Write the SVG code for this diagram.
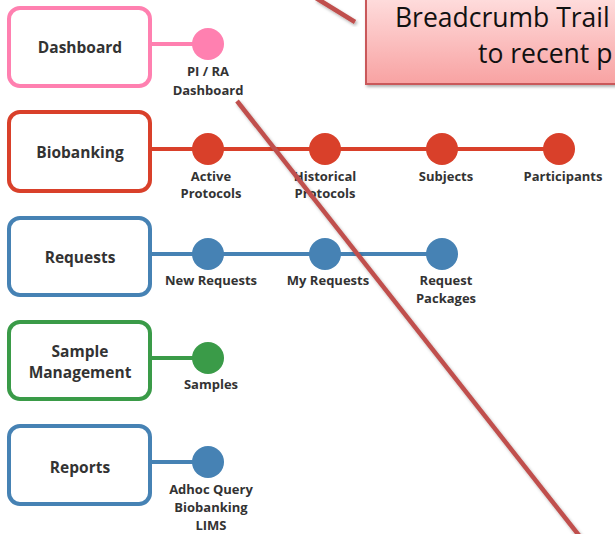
<svg xmlns="http://www.w3.org/2000/svg" width="615" height="534" viewBox="0 0 615 534">
<defs>
<linearGradient id="cg" x1="0" y1="0" x2="0" y2="1">
<stop offset="0" stop-color="#ffe2e2"/>
<stop offset="1" stop-color="#f8a2a2"/>
</linearGradient>
<filter id="sh" x="-20%" y="-20%" width="140%" height="140%">
<feDropShadow dx="1.5" dy="2" stdDeviation="1.5" flood-color="#000" flood-opacity="0.3"/>
</filter>
<style>
.box{fill:#fff;stroke-width:4}
.t{font-family:"Open Sans","DejaVu Sans",sans-serif;font-weight:bold;fill:#333;text-anchor:middle}
.bt{font-size:15.5px}
.lt{font-size:13px}
.pink{stroke:#ff80b0}
.red{stroke:#d9402a}
.blue{stroke:#4682b4}
.green{stroke:#3a9b48}
.fpink{fill:#ff80b0}
.fred{fill:#d9402a}
.fblue{fill:#4682b4}
.fgreen{fill:#3a9b48}
.ln{stroke-width:4;fill:none}
.call{stroke:#c0504d;stroke-width:4.5;stroke-linecap:butt;fill:none;filter:url(#sh)}
.ct{font-family:"Open Sans","DejaVu Sans",sans-serif;font-size:26.5px;fill:#111}
</style>
</defs>
<rect width="615" height="534" fill="#fff"/>

<g id="connectors">
<line class="ln pink" x1="152" y1="44" x2="208" y2="44"/>
<line class="ln red" x1="152" y1="149" x2="559" y2="149"/>
<line class="ln blue" x1="152" y1="254" x2="442" y2="254"/>
<line class="ln green" x1="152" y1="358" x2="208" y2="358"/>
<line class="ln blue" x1="152" y1="462" x2="208" y2="462"/>
</g>

<g id="dashboard">
<rect class="box pink" x="9" y="8" width="141" height="78" rx="11"/>
<text class="t bt" x="80" y="53">Dashboard</text>
<circle class="fpink" cx="208" cy="44" r="16"/>
<text class="t lt" x="208" y="76">PI / RA</text>
<text class="t lt" x="208" y="95">Dashboard</text>
</g>

<g id="biobanking">
<rect class="box red" x="9" y="112" width="141" height="79" rx="11"/>
<text class="t bt" x="80" y="158">Biobanking</text>
<circle class="fred" cx="208" cy="149" r="16"/>
<text class="t lt" x="211" y="181">Active</text>
<text class="t lt" x="211" y="198">Protocols</text>
<circle class="fred" cx="325" cy="149" r="16"/>
<text class="t lt" x="325" y="181">Historical</text>
<text class="t lt" x="325" y="198">Protocols</text>
<circle class="fred" cx="442" cy="149" r="16"/>
<text class="t lt" x="446" y="181">Subjects</text>
<circle class="fred" cx="559" cy="149" r="16"/>
<text class="t lt" x="563" y="181">Participants</text>
</g>

<g id="requests">
<rect class="box blue" x="9" y="218" width="141" height="77" rx="11"/>
<text class="t bt" x="80" y="263">Requests</text>
<circle class="fblue" cx="208" cy="254" r="16"/>
<text class="t lt" x="211" y="285">New Requests</text>
<circle class="fblue" cx="325" cy="254" r="16"/>
<text class="t lt" x="328" y="285">My Requests</text>
<circle class="fblue" cx="442" cy="254" r="16"/>
<text class="t lt" x="446" y="285">Request</text>
<text class="t lt" x="446" y="303">Packages</text>
</g>

<g id="sample-management">
<rect class="box green" x="9" y="322" width="141" height="77" rx="11"/>
<text class="t bt" x="80" y="357">Sample</text>
<text class="t bt" x="80" y="378">Management</text>
<circle class="fgreen" cx="208" cy="358" r="16"/>
<text class="t lt" x="211" y="389">Samples</text>
</g>

<g id="reports">
<rect class="box blue" x="9" y="426" width="141" height="78" rx="11"/>
<text class="t bt" x="80" y="473">Reports</text>
<circle class="fblue" cx="208" cy="462" r="16"/>
<text class="t lt" x="211" y="494">Adhoc Query</text>
<text class="t lt" x="211" y="512">Biobanking</text>
<text class="t lt" x="211" y="530">LIMS</text>
</g>

<g id="callout">
<line class="call" x1="237" y1="101" x2="581" y2="538"/>
<line class="call" x1="316" y1="-2" x2="355" y2="22"/>
<rect x="366" y="-10" width="260" height="94" fill="url(#cg)" stroke="#c9595a" stroke-width="2" filter="url(#sh)"/>
<text class="ct" x="395" y="27">Breadcrumb Trail</text>
<text class="ct" x="478" y="63">to recent p</text>
</g>
</svg>
